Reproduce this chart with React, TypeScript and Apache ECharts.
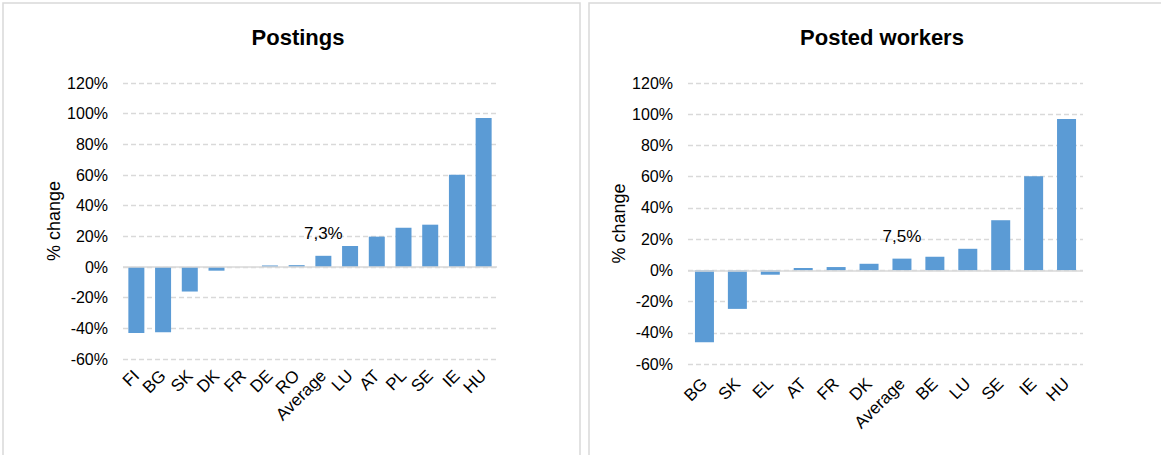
import React, { useEffect, useRef } from "react";
import * as echarts from "echarts";

// Postings panel
const postingCategories = ["FI", "BG", "SK", "DK", "FR", "DE", "RO", "Average", "LU", "AT", "PL", "SE", "IE", "HU"];
const postingValues = [-43.0, -42.6, -16.0, -2.4, 0.0, 1.0, 1.2, 7.3, 13.7, 19.8, 25.6, 27.6, 60.2, 97.2];

// Posted workers panel
const workerCategories = ["BG", "SK", "EL", "AT", "FR", "DK", "Average", "BE", "LU", "SE", "IE", "HU"];
const workerValues = [-46.0, -24.7, -2.8, 1.5, 2.1, 4.2, 7.5, 8.7, 13.8, 32.1, 60.2, 97.0];

const panelTitles = ["Postings", "Posted workers"];
const yTicks = { min: -60, max: 120, interval: 20 };

const FONT = "'Liberation Sans', Arial, sans-serif";
const BAR = "#5B9BD5";
const GRID = "#d9d9d9";

const fmtPct = (v: number) => v.toFixed(1).replace(".", ",") + "%";

function seriesData(cats: string[], vals: number[]) {
  return vals.map((v, i) => ({
    value: v,
    label: { show: cats[i] === "Average" },
  }));
}

export default function App() {
  const ref = useRef<HTMLDivElement>(null);

  useEffect(() => {
    document.body.style.margin = "0";
    if (!ref.current) return;
    const chart = echarts.init(ref.current, undefined, { renderer: "svg" });

    const grids = [
      { left: 123, top: 83, width: 374, height: 276 },
      { left: 688, top: 83, width: 395, height: 281 },
    ];
    const cats = [postingCategories, workerCategories];
    const vals = [postingValues, workerValues];
    const barWidths = [16, 19];
    const nameGaps = [57, 58];
    const labelMargins = [14, 17];

    chart.setOption({
      animation: false,
      backgroundColor: "#ffffff",
      textStyle: { fontFamily: FONT },
      title: [
        {
          text: panelTitles[0],
          left: 293,
          top: 21,
          textAlign: "center",
          textStyle: { fontSize: 22, fontWeight: "bold", color: "#000", fontFamily: FONT },
        },
        {
          text: panelTitles[1],
          left: 877,
          top: 21,
          textAlign: "center",
          textStyle: { fontSize: 22, fontWeight: "bold", color: "#000", fontFamily: FONT },
        },
      ],
      graphic: [
        {
          type: "rect",
          shape: { x: 3, y: 3, width: 577, height: 470 },
          style: { fill: "none", stroke: GRID, lineWidth: 1.5 },
          silent: true,
        },
        {
          type: "rect",
          shape: { x: 589, y: 3, width: 590, height: 470 },
          style: { fill: "none", stroke: GRID, lineWidth: 1.5 },
          silent: true,
        },
      ],
      grid: grids,
      xAxis: [0, 1].map((g) => ({
        type: "category",
        gridIndex: g,
        data: cats[g],
        axisLine: { show: false, onZero: false },
        axisTick: { show: false },
        axisLabel: {
          rotate: 45,
          interval: 0,
          fontSize: 17,
          color: "#000",
          fontFamily: FONT,
          margin: labelMargins[g],
        },
      })),
      yAxis: [0, 1].map((g) => ({
        type: "value",
        gridIndex: g,
        min: yTicks.min,
        max: yTicks.max,
        interval: yTicks.interval,
        name: "% change",
        nameLocation: "middle",
        nameRotate: 90,
        nameGap: nameGaps[g],
        nameTextStyle: { fontSize: 18, color: "#000", fontFamily: FONT },
        axisLine: { show: false },
        axisTick: { show: false },
        axisLabel: {
          formatter: "{value}%",
          fontSize: 16,
          color: "#000",
          fontFamily: FONT,
          margin: 15,
        },
        splitLine: { lineStyle: { color: GRID, type: [5, 3], width: 1.3 } },
      })),
      series: [0, 1].map((g) => ({
        type: "bar",
        xAxisIndex: g,
        yAxisIndex: g,
        barWidth: barWidths[g],
        itemStyle: { color: BAR },
        data: seriesData(cats[g], vals[g]),
        label: {
          position: "top",
          distance: 14,
          fontSize: 17,
          color: "#000",
          fontFamily: FONT,
          formatter: (p: any) => fmtPct(p.value),
        },
        markLine: {
          silent: true,
          symbol: "none",
          label: { show: false },
          lineStyle: { color: GRID, type: "solid", width: 1.5 },
          data: [{ yAxis: 0 }],
        },
      })),
    });

    return () => chart.dispose();
  }, []);

  return (
    <div
      ref={ref}
      style={{ position: "absolute", left: 0, top: 0, width: 1161, height: 455 }}
    />
  );
}
